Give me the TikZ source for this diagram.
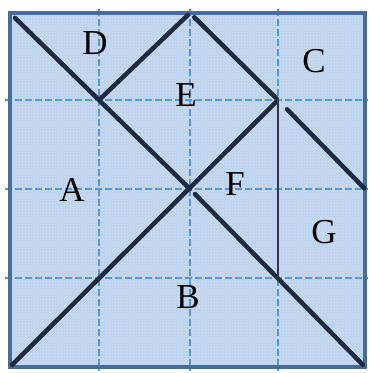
\documentclass[tikz,border=0pt]{standalone}
\usepackage{fontspec}
\setmainfont{Liberation Serif}
\usetikzlibrary{patterns}
\definecolor{bgfill}{RGB}{190,212,238}
\definecolor{bordercol}{RGB}{70,108,155}
\definecolor{gridcol}{RGB}{88,152,215}
\definecolor{piececol}{RGB}{30,42,64}
\begin{document}
\begin{tikzpicture}[x=1pt,y=-1pt,
  gridline/.style={gridcol,line width=1.6pt,dash pattern=on 7pt off 3pt},
  cutline/.style={piececol,line width=4.5pt,line cap=round},
  thincut/.style={piececol!85!gray,line width=2.4pt},
  piecelabel/.style={anchor=base,inner sep=0pt,font=\fontsize{35}{40}\selectfont}]
\useasboundingbox (0,0) rectangle (368,373);
% grid points
\foreach \i/\xv in {0/10,1/99,2/190,3/278,4/365}{
  \foreach \j/\yv in {0/13,1/100,2/189,3/278,4/367}{
    \coordinate (g\i\j) at (\xv,\yv);
  }
}
% background square
\fill[bgfill] (g00) rectangle (g44);
\fill[pattern=crosshatch dots,pattern color=white,opacity=0.35] (g00) rectangle (g44);
% dashed grid
\foreach \xv in {99,190,278}{
  \draw[gridline] (\xv,9) -- (\xv,371);
}
\foreach \yv in {100,189,278}{
  \draw[gridline] (5,\yv) -- (368,\yv);
}
% border
\draw[bordercol,line width=3.5pt] (g00) rectangle (g44);
% tangram cuts
\draw[cutline,shorten <=7pt] (g00) -- (g22);
\draw[cutline,shorten <=7pt,shorten >=3pt] (g22) -- (g44);
\draw[cutline,shorten <=3pt,shorten >=2pt] (g04) -- (g31);
\draw[cutline,shorten <=2pt,shorten >=3pt] (g11) -- (g20);
\draw[cutline,shorten <=6pt,shorten >=2pt] (g20) -- (g31);
\draw[cutline,shorten <=13pt,shorten >=1pt] (g31) -- (g42);
\draw[thincut] (g31) -- (g33);
% labels
\node[piecelabel] (lD) at (95,54) {D};
\node[piecelabel] (lE) at (186,106) {E};
\node[piecelabel] (lC) at (314,72) {C};
\node[piecelabel] (lA) at (72,201) {A};
\node[piecelabel] (lF) at (235,195) {F};
\node[piecelabel] (lG) at (324,243) {G};
\node[piecelabel] (lB) at (188,308) {B};
\end{tikzpicture}
\end{document}
